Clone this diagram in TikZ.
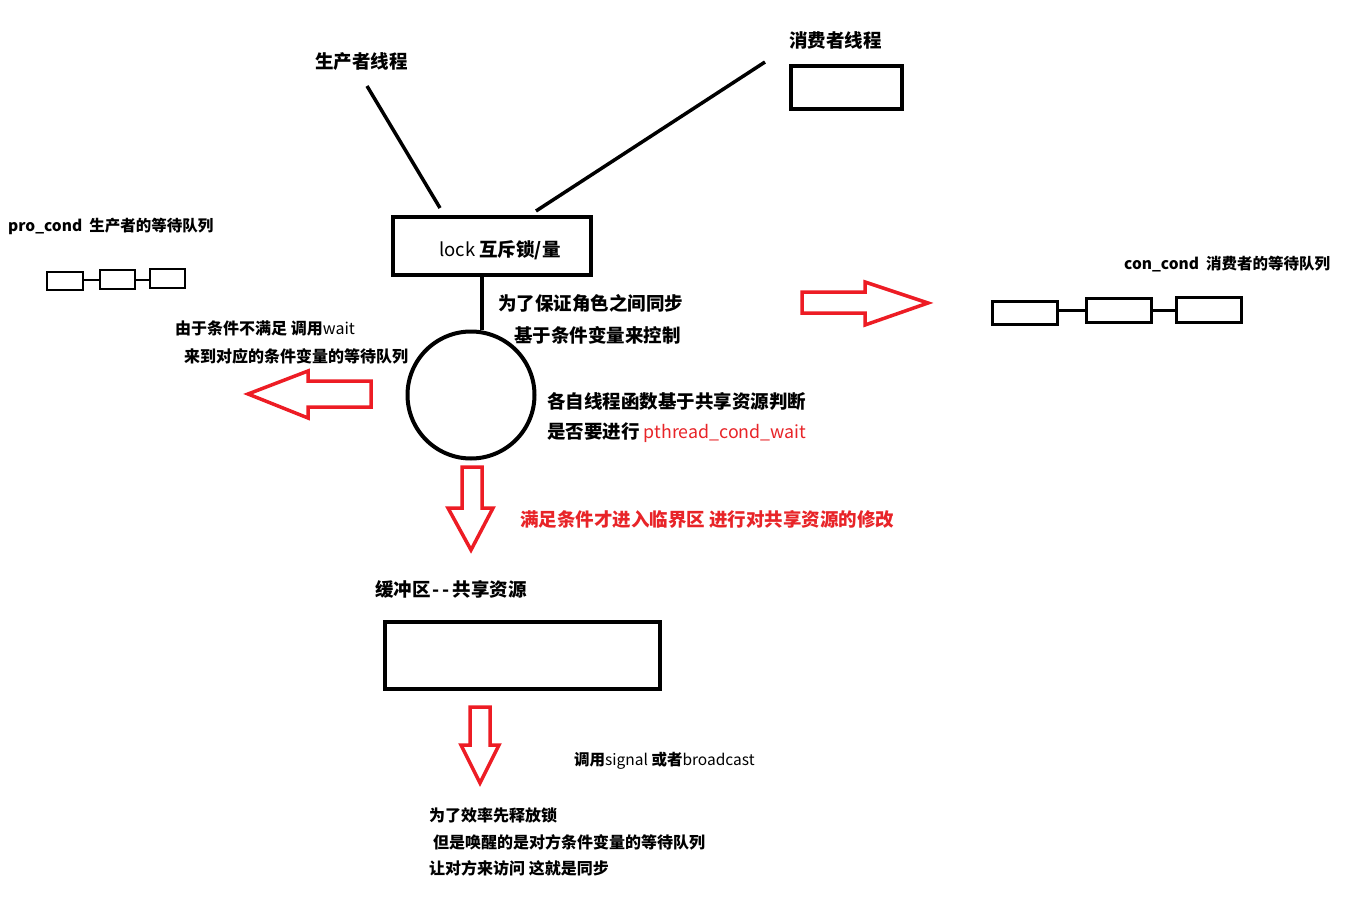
\documentclass[tikz,border=0pt]{standalone}
\usepackage{fontspec}
\setmainfont{Noto Sans CJK SC}
\definecolor{pred}{RGB}{237,28,36}
\definecolor{tred}{RGB}{232,36,40}
\begin{document}
\begin{tikzpicture}[x=1pt,y=-1pt,
  box/.style={draw=black, line width=4pt, inner sep=0pt, fill=white},
  qbox/.style={draw=black, line width=2pt, inner sep=0pt},
  cbox/.style={draw=black, line width=3pt, inner sep=0pt},
  lbl/.style={font=\bfseries\fontsize{18.5}{20}\selectfont, inner sep=0pt, anchor=west},
  mlbl/.style={font=\bfseries\fontsize{16}{18}\selectfont, inner sep=0pt, anchor=west},
  slbl/.style={font=\bfseries\fontsize{15.5}{17}\selectfont, inner sep=0pt, anchor=west},
  blk/.style={draw=pred, line width=3.5pt, line join=miter},
  wire/.style={draw=black, line width=4pt},
  thin/.style={draw=black, line width=2pt}]
\useasboundingbox (0,0) rectangle (1353,907);
\fill[white] (0,0) rectangle (1353,907);

% producer / consumer
\node[lbl] (prod) at (315,62) {生产者线程};
\node[lbl] (cons) at (789,40) {消费者线程};
\node[box, minimum width=111pt, minimum height=43pt] (cbx) at (846.5,87.5) {};

% lock
\node[box, minimum width=198pt, minimum height=58pt] (lock) at (492,246) {};
\node[lbl] (lockt) at (439,250) {\mdseries lock \bfseries 互斥锁/量};
\coordinate (pA) at (367,86);
\coordinate (cA) at (765,62);
\draw[line width=3.5pt] (pA) -- ([xshift=-52pt,yshift=7pt]lock.north);
\draw[line width=3.5pt] (cA) -- ([xshift=44pt,yshift=4pt]lock.north);

% circle
\node[draw=black, line width=4pt, circle, minimum size=127pt, inner sep=0pt] (cir) at (471,395) {};
\draw[wire] ([xshift=-10pt]lock.south) -- ([xshift=11pt,yshift=-0.5pt]cir.north);

\node[lbl] (t1) at (498,303) {为了保证角色之间同步};
\node[lbl] (t2) at (514,335) {基于条件变量来控制};
\node[lbl] (t3) at (547,401) {各自线程函数基于共享资源判断};
\node[lbl] (t4) at (547,433) {是否要进行 \mdseries\textcolor{tred}{\fontsize{17.8}{20}\selectfont pthread\_cond\_wait}};

% pro_cond queue
\node[slbl] (pl) at (8,226) {pro\_cond\ \ 生产者的等待队列};
\node[qbox, minimum width=36pt, minimum height=18pt] (p1) at (65,281) {};
\node[qbox, minimum width=35pt, minimum height=19pt] (p2) at (117.5,279.5) {};
\node[qbox, minimum width=35pt, minimum height=19pt] (p3) at (167.5,278.5) {};
\draw[thin] (p2.west -| p1.east) -- (p2.west);
\draw[thin] (p2.east) -- (p2.east -| p3.west);

\node[mlbl] (w1) at (175,328) {由于条件不满足 调用\mdseries wait};
\node[mlbl] (w2) at (184,356) {来到对应的条件变量的等待队列};

% left arrow
\path[blk] (371,381) -- (308,381) -- (308,371) -- (248,394) -- (308,418) -- (308,407) -- (371,407) -- cycle;

% right arrow
\path[blk] (802,292) -- (865,292) -- (865,282) -- (928,303) -- (865,325) -- (865,313) -- (802,313) -- cycle;

% con_cond queue
\node[slbl] (cl) at (1124,264) {con\_cond\ \ 消费者的等待队列};
\node[cbox, minimum width=65pt, minimum height=23pt] (c1) at (1024.5,312.5) {};
\node[cbox, minimum width=65pt, minimum height=24pt] (c2) at (1118.5,310) {};
\node[cbox, minimum width=65pt, minimum height=25pt] (c3) at (1208.5,309.5) {};
\draw[cbox] (c2.west -| c1.east) -- (c2.west);
\draw[cbox] (c2.east) -- (c2.east -| c3.west);

% down arrow 1
\path[blk] (462,467) -- (482,467) -- (482,508) -- (493,508) -- (471,550) -- (448,508) -- (462,508) -- cycle;
\node[lbl, text=tred] (red1) at (520,519) {满足条件才进入临界区 进行对共享资源的修改};

% buffer
\node[lbl] (bl) at (375,589) {缓冲区\kern2pt{-}\kern3pt{-}\kern3pt共享资源};
\node[box, minimum width=275pt, minimum height=67pt] (buf) at (522.5,655.5) {};

% down arrow 2
\path[blk] (470,707) -- (490,707) -- (490,745) -- (499,745) -- (480,783) -- (461,745) -- (470,745) -- cycle;
\node[slbl] (sg) at (574,761) {调用\mdseries signal \bfseries 或者\mdseries broadcast};

\node[mlbl] (b1) at (429,815) {为了效率先释放锁};
\node[mlbl] (b2) at (433,842) {但是唤醒的是对方条件变量的等待队列};
\node[mlbl] (b3) at (429,868) {让对方来访问 这就是同步};
\end{tikzpicture}
\end{document}
